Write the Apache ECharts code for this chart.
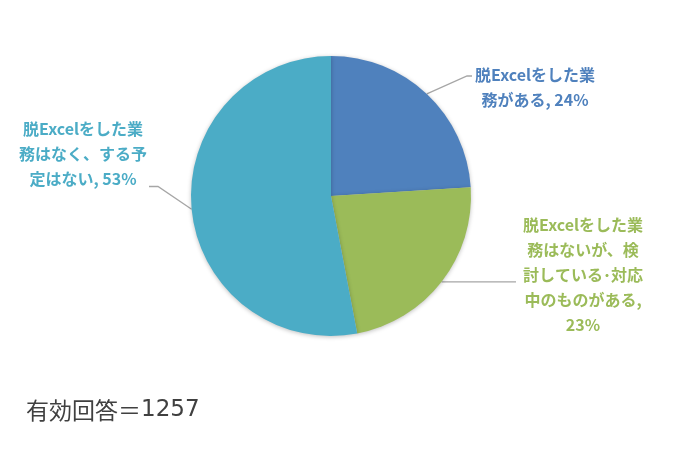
<!DOCTYPE html>
<html><head><meta charset="utf-8">
<script src="https://cdn.jsdelivr.net/npm/echarts@6/dist/echarts.min.js"></script>
<style>html,body{margin:0;padding:0;background:#fff}#c{width:700px;height:449px}</style>
</head><body><div id="c"></div>
<script>
// ---- data ----
const categories = [
  '脱Excelをした業\n務がある',
  '脱Excelをした業\n務はないが、検\n討している･対応\n中のものがある',
  '脱Excelをした業\n務はなく、する予\n定はない'
];
const values = [24, 23, 53];
const labelSeps = [', ', ',\n', ', '];
const noteLabel = '有効回答＝';
const noteCount = '1257';

// ---- styles / layout ----
const colors = ['#4F81BD', '#9BBB59', '#4BACC6'];
// label centre and leader-line end relative to label box
const labelPos = [
  { x: 535, y: 87,  side: 'left',  endDx: -3, endDyFromTop: 14, bend: -5 },
  { x: 583, y: 275, side: 'left',  endDx: -7, flat: true },
  { x: 83,  y: 154, side: 'right', endDx: 2,  endDyFromTop: 70, bend: 9 }
];

const chart = echarts.init(document.getElementById('c'));
chart.setOption({
  backgroundColor: '#fff',
  animation: false,
  color: colors,
  graphic: [{
    type: 'text', left: 26, top: 399,
    style: {
      text: '{a|' + noteLabel + '}{b|' + noteCount + '}',
      rich: {
        a: { fontSize: 23, fill: '#404040', fontFamily: '"Noto Sans CJK JP", sans-serif' },
        b: { fontSize: 23, fill: '#404040', fontFamily: '"DejaVu Sans", sans-serif' }
      }
    }
  }],
  series: [{
    type: 'pie',
    center: [331, 196],
    radius: 140,
    startAngle: 90,
    clockwise: true,
    data: categories.map((n, i) => ({ name: n, value: values[i] })),
    itemStyle: { shadowBlur: 4, shadowColor: 'rgba(0,0,0,0.25)', shadowOffsetY: 1 },
    label: {
      show: true, position: 'outside',
      formatter: p => p.name + labelSeps[p.dataIndex] + p.value + '%',
      color: 'inherit',
      fontSize: 16, fontWeight: 'bold', lineHeight: 25, align: 'center',
      fontFamily: '"Noto Sans CJK JP", sans-serif'
    },
    labelLine: { show: true, length: 20, length2: 10, lineStyle: { color: '#A6A6A6', width: 1.3 } },
    labelLayout: function (params) {
      const lp = labelPos[params.dataIndex];
      const w = params.labelRect.width, h = params.labelRect.height;
      const start = params.labelLinePoints[0];
      const left = lp.x - w / 2, right = lp.x + w / 2, top = lp.y - h / 2;
      let pts;
      if (lp.flat) {
        pts = [start, [left + lp.endDx, start[1]]];
      } else {
        const ex = (lp.side === 'left' ? left : right) + lp.endDx;
        const ey = top + lp.endDyFromTop;
        pts = [start, [ex + lp.bend, ey], [ex, ey]];
      }
      return { x: lp.x, y: lp.y, align: 'center', verticalAlign: 'middle', labelLinePoints: pts };
    }
  }]
});
</script></body></html>
